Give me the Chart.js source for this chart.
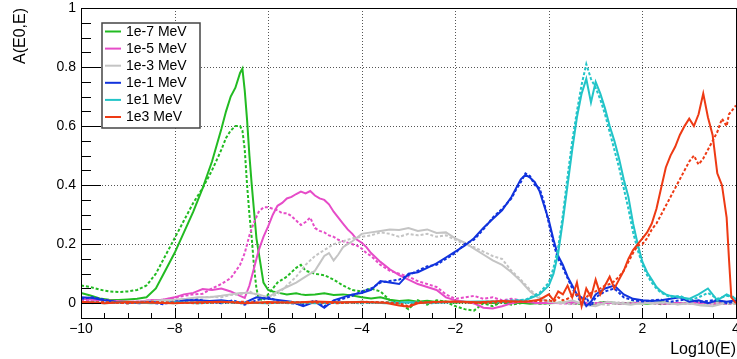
<!DOCTYPE html>
<html>
<head>
<meta charset="utf-8">
<script src="https://cdn.jsdelivr.net/npm/chart.js@4.4.0/dist/chart.umd.min.js"></script>
<style>
    body { margin: 0; background: #fff; }
</style>
</head>
<body>
<canvas id="myChart" width="737" height="359"></canvas>
<script>
// Log10(E) sample positions (shared by the solid and dotted curve of each energy)
const x1e7 = [-10, -9.8, -9.6, -9.4, -9.2, -9, -8.8, -8.6, -8.4, -8.2, -8, -7.8, -7.6, -7.4, -7.2, -7,
    -6.9, -6.8, -6.7, -6.6, -6.55, -6.5, -6.45, -6.4, -6.35, -6.3, -6.25, -6.2, -6.1, -6, -5.9, -5.8,
    -5.6, -5.4, -5.3, -5.2, -5, -4.8, -4.6, -4.4, -4.2, -4, -3.8, -3.6, -3.4, -3.2, -3, -2.8, -2.6, -2.4,
    -2.2, -2, -1.8, -1.6, -1.4, -1.2, -1, -0.8, -0.6, -0.4, -0.2, 0, 0.3, 0.6, 0.9, 1.2, 1.5, 1.8, 2.1,
    2.4, 2.7, 3, 3.3, 3.6, 4];
const y1e7 = [0.035, 0.026, 0.016, 0.012, 0.011, 0.013, 0.015, 0.02, 0.05, 0.11, 0.17, 0.24, 0.31, 0.39, 0.48, 0.59,
    0.65, 0.70, 0.73, 0.78, 0.795, 0.72, 0.62, 0.50, 0.40, 0.31, 0.22, 0.17, 0.07, 0.045, 0.04, 0.036,
    0.03, 0.034, 0.03, 0.028, 0.03, 0.034, 0.028, 0.03, 0.026, 0.02, 0.016, 0.02, 0.012, 0.008, 0.01, 0.005,
    0.008, 0.004, 0.006, 0.002, 0.004, 0.0, 0.003, 0.001, 0.004, 0.0, 0.002, -0.002, 0.001, 0.0,
    0.002, 0.0, -0.003, 0.004, 0.0, 0.002, -0.002, 0.003, 0.0, 0.002, -0.001, 0.003, 0.0];
const y1e7d = [0.06, 0.055, 0.046, 0.04, 0.038, 0.04, 0.045, 0.06, 0.10, 0.16, 0.22, 0.28, 0.34, 0.39, 0.45, 0.52,
    0.56, 0.585, 0.60, 0.60, 0.585, 0.52, 0.40, 0.30, 0.22, 0.12, 0.05, 0.015, 0.01, 0.03, 0.05, 0.07,
    0.09, 0.12, 0.13, 0.11, 0.10, 0.095, 0.08, 0.06, 0.045, 0.04, 0.05, 0.04, 0.01, 0.0, -0.02, 0.01,
    -0.005, 0.01, 0.005, -0.01, -0.02, -0.025, 0.0, -0.01, 0.005, -0.005, 0.0, 0.004, -0.002, 0.0,
    0.002, -0.003, 0.0, 0.003, -0.002, 0.0, 0.002, -0.003, 0.001, 0.0, 0.002, -0.002, 0.0];

const x1e5 = [-10, -9.75, -9.5, -9.25, -9, -8.75, -8.5, -8.25, -8, -7.8, -7.6, -7.4, -7.2, -7, -6.8, -6.6,
    -6.5, -6.4, -6.3, -6.2, -6.1, -6, -5.9, -5.8, -5.7, -5.6, -5.5, -5.4, -5.3, -5.2, -5.1, -5, -4.9, -4.8,
    -4.7, -4.6, -4.5, -4.4, -4.3, -4.2, -4.1, -4, -3.9, -3.8, -3.6, -3.4, -3.2, -3, -2.8, -2.6, -2.4, -2.2,
    -2, -1.8, -1.6, -1.4, -1.2, -1, -0.8, -0.6, -0.4, -0.2, 0, 0.25, 0.5, 0.75, 1, 1.25, 1.5, 1.75, 2,
    2.25, 2.5, 2.75, 3, 3.25, 3.5, 3.75, 4];
const y1e5 = [0.015, 0.012, 0.01, 0.008, 0.005, 0.006, 0.01, 0.012, 0.02, 0.03, 0.035, 0.048, 0.045, 0.05, 0.04, 0.025,
    0.018, 0.06, 0.12, 0.18, 0.225, 0.26, 0.30, 0.33, 0.34, 0.355, 0.36, 0.37, 0.378, 0.372, 0.38, 0.365, 0.355, 0.35,
    0.335, 0.31, 0.29, 0.27, 0.25, 0.235, 0.215, 0.205, 0.19, 0.17, 0.14, 0.115, 0.095, 0.08, 0.065, 0.055, 0.045, 0.02,
    0.01, 0.005, 0.0, -0.015, -0.018, -0.01, 0.0, 0.005, 0.003, 0.0, 0.002, 0.0, 0.003, -0.002, 0.0, 0.002, -0.001, 0.0, 0.003,
    0.0, -0.002, 0.001, 0.0, 0.002, -0.001, 0.0, 0.001];
const y1e5d = [0.01, 0.008, 0.006, 0.005, 0.004, 0.006, 0.01, 0.012, 0.018, 0.025, 0.03, 0.032, 0.05, 0.065, 0.085, 0.13,
    0.17, 0.23, 0.275, 0.31, 0.325, 0.325, 0.32, 0.315, 0.305, 0.305, 0.295, 0.28, 0.265, 0.275, 0.29, 0.255, 0.245, 0.24,
    0.23, 0.225, 0.215, 0.21, 0.205, 0.2, 0.195, 0.185, 0.17, 0.16, 0.13, 0.11, 0.1, 0.09, 0.075, 0.065, 0.055, 0.03,
    0.015, 0.02, 0.025, 0.015, 0.02, 0.01, 0.015, 0.01, 0.005, 0.0, 0.002, 0.0, -0.002, 0.002, 0.0, 0.003, 0.0, -0.002, 0.001,
    0.0, 0.002, -0.001, 0.0, 0.001, 0.0, -0.002, 0.0];

const x1e3 = [-10, -9.75, -9.5, -9.25, -9, -8.75, -8.5, -8.25, -8, -7.75, -7.5, -7.25, -7,
    -6.8, -6.6, -6.4, -6.2, -6, -5.8, -5.6, -5.4, -5.2, -5, -4.9, -4.8, -4.7, -4.6, -4.5, -4.4, -4.3, -4.2,
    -4, -3.8, -3.6, -3.4, -3.2, -3, -2.8, -2.6, -2.4, -2.2, -2, -1.8, -1.6, -1.4, -1.2, -1, -0.8, -0.6, -0.4,
    -0.2, 0, 0.25, 0.5, 0.75, 1, 1.25, 1.5, 1.75, 2, 2.25, 2.5, 2.75, 3, 3.25, 3.5, 3.75, 4];
const y1e3 = [0.0, 0.005, 0.0, 0.005, 0.003, 0.005, 0.008, 0.01, 0.012, 0.015, 0.02, 0.02, 0.025,
    0.03, 0.035, 0.035, 0.03, 0.02, 0.04, 0.055, 0.07, 0.09, 0.11, 0.135, 0.16, 0.17, 0.145, 0.165, 0.19, 0.2, 0.21,
    0.235, 0.24, 0.245, 0.25, 0.248, 0.255, 0.245, 0.25, 0.238, 0.24, 0.22, 0.205, 0.185, 0.165, 0.145, 0.13, 0.105, 0.075, 0.04,
    0.015, 0.005, 0.0, 0.01, -0.005, -0.01, 0.005, 0.0, -0.005, 0.002, 0.0, 0.003, -0.004, 0.0, -0.008, -0.01, 0.0, 0.002];
const y1e3d = [0.005, 0.0, 0.006, 0.002, 0.004, 0.006, 0.005, 0.01, 0.01, 0.012, 0.018, 0.022, 0.02,
    0.028, 0.03, 0.04, 0.025, 0.02, 0.03, 0.06, 0.09, 0.13, 0.16, 0.17, 0.18, 0.19, 0.2, 0.205, 0.21, 0.215, 0.22,
    0.225, 0.23, 0.24, 0.235, 0.225, 0.235, 0.23, 0.235, 0.225, 0.23, 0.215, 0.2, 0.19, 0.175, 0.16, 0.15, 0.11, 0.08, 0.045,
    0.02, 0.005, 0.002, -0.004, 0.006, 0.0, -0.006, 0.003, 0.0, -0.002, 0.004, 0.0, -0.003, 0.002, -0.006, 0.0, 0.003, 0.0];

const x1e1 = [-10, -9.75, -9.5, -9.25, -9, -8.75, -8.5, -8.25, -8, -7.75, -7.5, -7.25, -7, -6.75, -6.5, -6.25,
    -6, -5.75, -5.5, -5.25, -5, -4.8, -4.6, -4.4, -4.2, -4, -3.8, -3.6, -3.4, -3.2, -3, -2.8, -2.6, -2.4,
    -2.2, -2, -1.8, -1.6, -1.4, -1.2, -1, -0.8, -0.7, -0.6, -0.5, -0.4, -0.3, -0.2, -0.1, 0, 0.1, 0.2,
    0.3, 0.4, 0.5, 0.6, 0.7, 0.8, 0.9, 1, 1.2, 1.4, 1.6, 1.8, 2, 2.2, 2.4, 2.6, 2.8, 3, 3.2, 3.4, 3.6, 3.8, 4];
const y1e1 = [0.02, 0.018, 0.01, 0.005, 0.003, 0.0, 0.005, 0.0, 0.003, 0.01, 0.01, 0.008, 0.01, 0.005, 0.002, 0.02,
    0.015, 0.01, 0.005, -0.01, 0.005, -0.015, 0.01, 0.02, 0.03, 0.035, 0.045, 0.075, 0.07, 0.065, 0.1, 0.105, 0.12, 0.135,
    0.155, 0.175, 0.195, 0.22, 0.255, 0.285, 0.315, 0.36, 0.39, 0.42, 0.435, 0.425, 0.41, 0.38, 0.33, 0.28, 0.215, 0.16,
    0.13, 0.09, 0.06, 0.03, 0.02, -0.01, 0.005, 0.03, 0.05, 0.06, 0.03, 0.015, 0.01, 0.008, 0.01, 0.015, 0.02, 0.005,
    0.01, 0.0, 0.01, 0.005, 0.01];
const y1e1d = [0.015, 0.02, 0.012, 0.004, 0.0, 0.004, 0.002, -0.003, 0.006, 0.008, 0.012, 0.005, 0.0, 0.01, -0.005, 0.01,
    0.02, 0.005, 0.0, -0.005, 0.01, -0.01, 0.005, 0.015, 0.025, 0.04, 0.05, 0.07, 0.075, 0.08, 0.095, 0.11, 0.125, 0.13,
    0.15, 0.17, 0.2, 0.215, 0.25, 0.29, 0.32, 0.355, 0.385, 0.41, 0.44, 0.43, 0.4, 0.39, 0.34, 0.27, 0.2, 0.15,
    0.12, 0.085, 0.05, 0.025, 0.0, 0.02, -0.01, 0.02, 0.04, 0.05, 0.02, 0.01, 0.006, 0.01, 0.012, 0.005, 0.01, 0.015,
    0.004, 0.008, 0.012, 0.0, 0.006];

const x1e_1 = [-10, -9.5, -9, -8.5, -8, -7.5, -7, -6.5, -6, -5.5, -5, -4.5, -4, -3.5, -3, -2.5, -2, -1.5, -1, -0.5,
    -0.2, 0, 0.1, 0.2, 0.3, 0.4, 0.5, 0.6, 0.7, 0.8, 0.9, 1, 1.1, 1.2, 1.3, 1.4, 1.5, 1.6, 1.7, 1.8, 1.9, 2,
    2.1, 2.2, 2.3, 2.4, 2.5, 2.6, 2.8, 3, 3.2, 3.4, 3.6, 3.8, 4];
const y1e_1 = [0.005, 0.0, 0.004, 0.0, 0.003, 0.0, 0.005, 0.002, 0.0, 0.004, 0.0, 0.002, 0.005, 0.0, 0.003, 0.002, 0.004, 0.006, 0.005, 0.01,
    0.03, 0.06, 0.1, 0.17, 0.28, 0.4, 0.52, 0.63, 0.71, 0.76, 0.68, 0.75, 0.71, 0.66, 0.6, 0.55, 0.49, 0.42, 0.36, 0.27, 0.2, 0.14,
    0.105, 0.08, 0.055, 0.04, 0.03, 0.025, 0.02, 0.015, 0.03, 0.05, 0.01, 0.03, 0.015];
const y1e_1d = [0.002, 0.004, 0.0, 0.003, 0.0, 0.004, 0.002, 0.0, 0.003, 0.0, 0.004, 0.003, 0.0, 0.004, 0.002, 0.0, 0.005, 0.004, 0.008, 0.012,
    0.035, 0.07, 0.12, 0.19, 0.3, 0.43, 0.55, 0.65, 0.74, 0.81, 0.76, 0.73, 0.69, 0.64, 0.58, 0.52, 0.46, 0.39, 0.32, 0.24, 0.18, 0.13,
    0.095, 0.07, 0.05, 0.035, 0.028, 0.02, 0.025, 0.01, 0.02, 0.035, 0.015, 0.025, 0.02];

const x1e_3 = [-10, -9.5, -9, -8.5, -8, -7.5, -7, -6.5, -6, -5.5, -5, -4.5, -4, -3.5, -3.2, -3, -2.8,
    -2.5, -2, -1.5, -1, -0.5, -0.2, 0, 0.1, 0.2, 0.3, 0.4, 0.5, 0.6, 0.7, 0.8, 0.9, 1, 1.1, 1.2, 1.3, 1.4,
    1.5, 1.6, 1.7, 1.8, 1.9, 2, 2.1, 2.2, 2.3, 2.4, 2.5, 2.6, 2.7, 2.8, 2.9, 3, 3.1, 3.2, 3.3, 3.4, 3.5,
    3.6, 3.7, 3.8, 3.85, 3.9, 4];
const y1e_3 = [0.005, 0.0, 0.004, 0.002, 0.0, 0.003, 0.005, 0.0, 0.004, 0.002, 0.006, 0.003, 0.004, 0.002, -0.008, -0.012, 0.0,
    0.004, 0.006, 0.003, 0.008, 0.005, 0.012, 0.03, 0.01, 0.04, 0.03, 0.06, 0.02, 0.07, -0.01, 0.05, 0.02, 0.08, 0.03, 0.06, 0.09, 0.05,
    0.08, 0.11, 0.15, 0.18, 0.2, 0.22, 0.24, 0.27, 0.32, 0.39, 0.46, 0.5, 0.53, 0.57, 0.6, 0.625, 0.6, 0.64, 0.71, 0.63, 0.57,
    0.44, 0.4, 0.29, 0.15, 0.02, 0.0];
const y1e_3d = [0.002, 0.004, 0.0, 0.005, 0.002, 0.0, 0.003, 0.005, 0.0, 0.004, 0.002, 0.0, 0.005, 0.003, 0.0, -0.01, 0.004,
    0.002, 0.005, 0.0, 0.004, 0.006, 0.008, 0.01, 0.005, 0.02, 0.01, 0.015, 0.025, 0.03, 0.01, 0.02, 0.035, 0.04, 0.05, 0.06, 0.065, 0.075,
    0.09, 0.11, 0.14, 0.17, 0.195, 0.2, 0.22, 0.25, 0.27, 0.3, 0.33, 0.36, 0.39, 0.42, 0.45, 0.48, 0.5, 0.47, 0.49, 0.52, 0.55,
    0.58, 0.625, 0.6, 0.64, 0.65, 0.67];

const energies = ['1e-7 MeV', '1e-5 MeV', '1e-3 MeV', '1e-1 MeV', '1e1 MeV', '1e3 MeV'];
const colors = ['#22bb22', '#e64cc8', '#c4c4c4', '#1133dd', '#22c4c8', '#ee3a14'];
const xTicks = [-10, -8, -6, -4, -2, 0, 2, 4];
const yTicks = [0, 0.2, 0.4, 0.6, 0.8, 1];

const FONT = '"Liberation Sans", Arial, Helvetica, sans-serif';

// ROOT style frame: dotted grid, inward ticks, box, legend
const rootFrame = {
    id: 'rootFrame',
    beforeDatasetsDraw(chart) {
        const { ctx, chartArea: a, scales: { x, y } } = chart;
        ctx.save();
        ctx.strokeStyle = '#555';
        ctx.lineWidth = 1;
        ctx.setLineDash([1, 2]);
        xTicks.slice(1, -1).forEach(v => {
            const px = Math.round(x.getPixelForValue(v)) + 0.5;
            ctx.beginPath(); ctx.moveTo(px, a.top); ctx.lineTo(px, a.bottom); ctx.stroke();
        });
        yTicks.slice(0, -1).forEach(v => {
            const py = Math.round(y.getPixelForValue(v)) + 0.5;
            ctx.beginPath(); ctx.moveTo(a.left, py); ctx.lineTo(a.right, py); ctx.stroke();
        });
        ctx.restore();
    },
    afterDatasetsDraw(chart) {
        const { ctx, chartArea: a, scales: { x, y } } = chart;
        ctx.save();
        ctx.strokeStyle = '#000';
        ctx.lineWidth = 1;
        ctx.strokeRect(Math.round(a.left) + 0.5, Math.round(a.top) + 0.5,
            Math.round(a.right - a.left), Math.round(a.bottom - a.top));

        ctx.beginPath();
        for (let v = -10; v <= 4.001; v += 0.5) {
            const px = Math.round(x.getPixelForValue(v)) + 0.5;
            const major = Math.abs(v - Math.round(v)) < 1e-6 && Math.round(v) % 2 === 0;
            ctx.moveTo(px, a.bottom);
            ctx.lineTo(px, a.bottom - (major ? 10 : 5));
        }
        for (let k = -1; k <= 20; k++) {
            const v = k * 0.05;
            const py = Math.round(y.getPixelForValue(v)) + 0.5;
            const major = k >= 0 && k % 4 === 0;
            ctx.moveTo(a.left, py);
            ctx.lineTo(a.left + (major ? 20 : 10), py);
        }
        ctx.stroke();
        ctx.restore();
    },
    afterDraw(chart) {
        const ctx = chart.ctx;
        ctx.save();
        ctx.fillStyle = '#fff';
        ctx.fillRect(102, 23, 98, 105);
        ctx.strokeStyle = '#444';
        ctx.lineWidth = 1.5;
        ctx.strokeRect(102, 23, 98, 105);
        ctx.font = '14px ' + FONT;
        ctx.textBaseline = 'middle';
        energies.forEach((label, i) => {
            const yy = 31.5 + i * 17.1;
            ctx.strokeStyle = colors[i];
            ctx.lineWidth = 2;
            ctx.beginPath(); ctx.moveTo(105, yy); ctx.lineTo(121, yy); ctx.stroke();
            ctx.fillStyle = '#000';
            ctx.fillText(label, 126, yy + 0.5);
        });
        ctx.restore();
    }
};

getContext();

function getContext() {
    const series = [
        [x1e7, y1e7, y1e7d],
        [x1e5, y1e5, y1e5d],
        [x1e3, y1e3, y1e3d],
        [x1e1, y1e1, y1e1d],
        [x1e_1, y1e_1, y1e_1d],
        [x1e_3, y1e_3, y1e_3d]
    ];
    const datasets = [];
    series.forEach((s, i) => {
        datasets.push(createDataset(energies[i], s[0], s[1], colors[i], false));
        datasets.push(createDataset(energies[i] + ' (dotted)', s[0], s[2], colors[i], true));
    });
    // later curves on top, like ROOT's "same" drawing order
    datasets.forEach((d, i) => { d.order = datasets.length - i; });
    generateChart({ datasets: datasets });
}

function createDataset(text, xs, ys, color, dotted) {
    const dataset = {
        label: text,
        data: xs.map((x, i) => ({ x: x, y: ys[i] })),
        borderColor: color,
        backgroundColor: color,
        borderWidth: 2,
        borderDash: dotted ? [3, 2] : [],
        pointRadius: 0,
        tension: 0,
        fill: false
    };
    return dataset;
}

function generateChart(data) {

    const ctx = document.getElementById('myChart');

    new Chart(ctx, {
        type: 'line',
        data: data,
        plugins: [rootFrame],
        options:
        {
            responsive: false,
            animation: false,
            layout: { padding: { top: 8, right: 1, left: 0, bottom: 0 } },
            scales: {
                x: {
                    type: 'linear',
                    min: -10,
                    max: 4,
                    afterBuildTicks: scale => { scale.ticks = xTicks.map(v => ({ value: v })); },
                    afterFit: scale => { scale.height = 41; scale.paddingRight = 0; scale.paddingLeft = 0; },
                    grid: { display: false, drawTicks: false },
                    border: { display: false },
                    ticks: {
                        padding: 3,
                        color: '#000',
                        maxRotation: 0,
                        font: { family: FONT, size: 14 },
                        callback: v => v < 0 ? '\u2212' + Math.abs(v) : String(v)
                    },
                    title: {
                        display: true,
                        text: 'Log10(E)',
                        align: 'end',
                        color: '#000',
                        padding: { top: 0, bottom: 0 },
                        font: { family: FONT, size: 16 }
                    }
                },
                y: {
                    min: -0.05,
                    max: 1,
                    afterBuildTicks: scale => { scale.ticks = yTicks.map(v => ({ value: v })); },
                    afterFit: scale => { scale.width = 81; scale.paddingTop = 0; scale.paddingBottom = 0; },
                    grid: { display: false, drawTicks: false },
                    border: { display: false },
                    ticks: {
                        padding: 5,
                        color: '#000',
                        font: { family: FONT, size: 14 },
                        callback: v => (v === 0 || v === 1) ? String(v) : v.toFixed(1)
                    },
                    title: {
                        display: true,
                        text: 'A(E0,E)',
                        align: 'end',
                        color: '#000',
                        padding: { top: 11, bottom: 0 },
                        font: { family: FONT, size: 16 }
                    }
                }
            },
            plugins: {
                legend:
                {
                    display: false
                },
                tooltip: { enabled: false }
            }
        }

    });
}
</script>
</body>
</html>
